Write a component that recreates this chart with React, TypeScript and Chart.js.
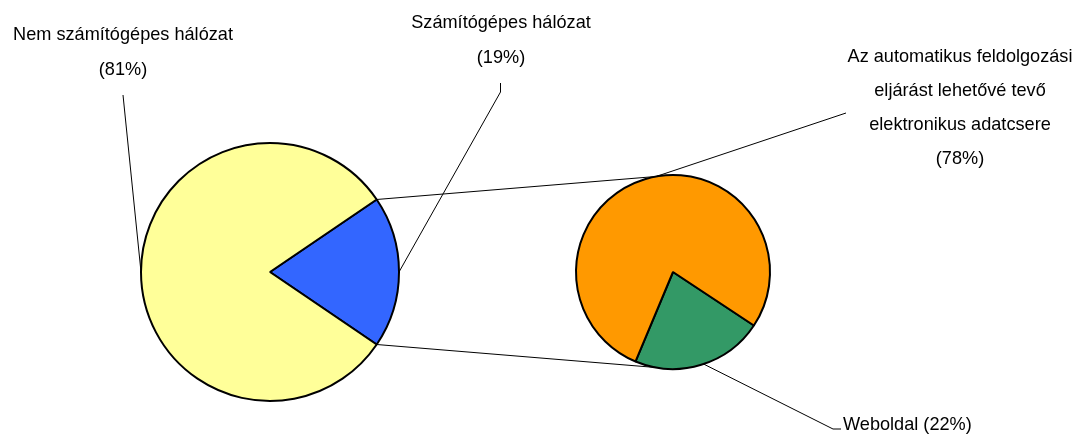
import React, { useEffect, useRef } from 'react';
import { Chart, registerables } from 'chart.js';
Chart.register(...registerables);

const W = 1082;
const H = 437;

const primaryLabels = ['Számítógépes hálózat', 'Nem számítógépes hálózat'];
const primaryValues = [19, 81];
const primaryColors = ['#3366FF', '#FFFF99'];

const secondaryLabels = ['Weboldal', 'Az automatikus feldolgozási eljárást lehetővé tevő elektronikus adatcsere'];
const secondaryValues = [22, 78];
const secondaryColors = ['#339966', '#FF9900'];

const blueLabelLines = ['Számítógépes hálózat', '(19%)'];
const yellowLabelLines = ['Nem számítógépes hálózat', '(81%)'];
const orangeLabelLines = ['Az automatikus feldolgozási', 'eljárást lehetővé tevő', 'elektronikus adatcsere', '(78%)'];
const greenLabelLines = ['Weboldal (22%)'];

const FONT = '19px "Liberation Sans", Arial, sans-serif';
const XSCALE = 0.955;

export default function App() {
  const leftRef = useRef<HTMLCanvasElement | null>(null);
  const rightRef = useRef<HTMLCanvasElement | null>(null);

  useEffect(() => {
    const left = new Chart(leftRef.current!, {
      type: 'pie',
      data: {
        labels: primaryLabels,
        datasets: [{ data: primaryValues, backgroundColor: primaryColors, borderColor: '#000', borderWidth: 2 }],
      },
      options: {
        responsive: false,
        animation: false,
        rotation: 55.8,
        layout: { padding: { left: 140, top: 142, right: 682, bottom: 35 } },
        plugins: { legend: { display: false }, tooltip: { enabled: false } },
      },
    });

    const overlay = {
      id: 'overlay',
      afterDraw(chart: any) {
        const ctx = chart.ctx as CanvasRenderingContext2D;
        const lArcs = left.getDatasetMeta(0).data as any[];
        const rArcs = chart.getDatasetMeta(0).data as any[];
        const blue = lArcs[0];
        const green = rArcs[0];
        const pt = (a: any, ang: number) => [a.x + a.outerRadius * Math.cos(ang), a.y + a.outerRadius * Math.sin(ang)];
        const deg = Math.PI / 180;
        ctx.save();
        ctx.strokeStyle = '#000';
        ctx.lineWidth = 1;
        const line = (pts: number[][]) => {
          ctx.beginPath();
          ctx.moveTo(pts[0][0], pts[0][1]);
          for (let i = 1; i < pts.length; i++) ctx.lineTo(pts[i][0], pts[i][1]);
          ctx.stroke();
        };
        // connectors
        const topR = pt(green, -100 * deg);
        const botR = pt(green, 100 * deg);
        line([pt(blue, blue.startAngle), topR]);
        line([pt(blue, blue.endAngle), botR]);
        // leader lines
        line([[123, 95], pt(blue, Math.PI)]);
        line([[500.5, 83], [500.5, 92], pt(blue, (blue.startAngle + blue.endAngle) / 2)]);
        line([[846, 113], topR]);
        line([pt(green, (green.startAngle + green.endAngle) / 2 - 1.5 * deg), [833, 429], [841, 429]]);
        // labels
        ctx.fillStyle = '#000';
        ctx.font = FONT;
        ctx.textBaseline = 'middle';
        const text = (t: string, x: number, y: number, align: CanvasTextAlign) => {
          ctx.save();
          ctx.translate(x, y);
          ctx.scale(XSCALE, 1);
          ctx.textAlign = align;
          ctx.fillText(t, 0, 0);
          ctx.restore();
        };
        yellowLabelLines.forEach((t, i) => text(t, 123, 35 + i * 35, 'center'));
        blueLabelLines.forEach((t, i) => text(t, 501, 23 + i * 35, 'center'));
        orangeLabelLines.forEach((t, i) => text(t, 960, 57 + i * 34, 'center'));
        greenLabelLines.forEach((t) => text(t, 843, 425, 'left'));
        ctx.restore();
      },
    };

    const right = new Chart(rightRef.current!, {
      type: 'pie',
      data: {
        labels: secondaryLabels,
        datasets: [{ data: secondaryValues, backgroundColor: secondaryColors, borderColor: '#000', borderWidth: 2 }],
      },
      options: {
        responsive: false,
        animation: false,
        rotation: 123.5,
        layout: { padding: { left: 575, top: 174, right: 311, bottom: 67 } },
        plugins: { legend: { display: false }, tooltip: { enabled: false } },
      },
      plugins: [overlay],
    });

    return () => {
      right.destroy();
      left.destroy();
    };
  }, []);

  return (
    <div style={{ position: 'fixed', left: 0, top: 0, width: W, height: H, background: '#fff' }}>
      <canvas ref={leftRef} width={W} height={H} style={{ position: 'absolute', left: 0, top: 0 }} />
      <canvas ref={rightRef} width={W} height={H} style={{ position: 'absolute', left: 0, top: 0 }} />
    </div>
  );
}
